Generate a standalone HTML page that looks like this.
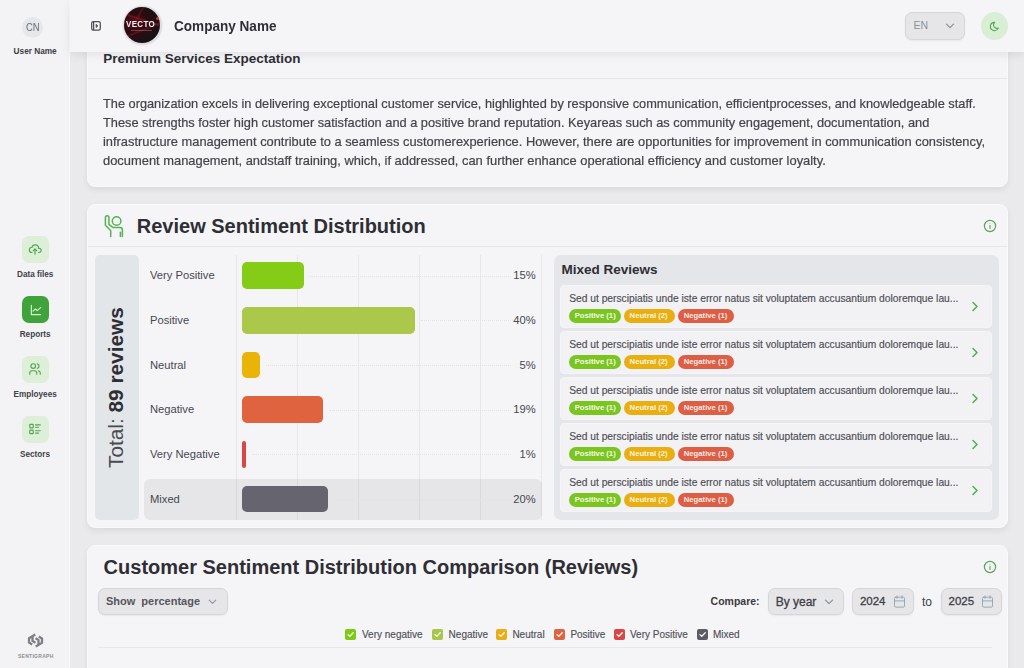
<!DOCTYPE html><html><head><meta charset="utf-8"><style>
*{margin:0;padding:0;box-sizing:border-box}
html,body{width:1024px;height:668px;overflow:hidden}
body{position:relative;background:#eaeaed;font-family:"Liberation Sans",sans-serif;-webkit-font-smoothing:antialiased}
.t{position:absolute;line-height:1;white-space:nowrap}
.abs{position:absolute}
.card{position:absolute;background:#f5f5f7;border-radius:8px;border:1px solid #f9f9fb;box-shadow:0 3px 7px -1px rgba(0,0,0,.09)}
.hl{position:absolute;height:1px;background:#e6e6e9}
.vl{position:absolute;width:1px;background:rgba(0,0,0,.055)}
.item{position:absolute;left:560px;width:432px;height:43px;background:#f2f2f4;border:1px solid #f5f5f7;border-radius:4px}
.badge{position:absolute;height:13.3px;border-radius:7px}
.btn{position:absolute;background:#e6e6e9;border:1px solid #d6d6da;border-radius:7px;box-shadow:0 1px 2px rgba(0,0,0,.06)}
.cb{position:absolute;width:11px;height:11px;border-radius:2px;top:629px}
</style></head><body><div class="abs" style="left:0;top:0;width:70px;height:668px;background:#f3f3f5;border-right:1px solid #f7f7f9"></div>
<div class="abs" style="left:22px;top:16.5px;width:21px;height:21px;border-radius:50%;background:#e6e7ea"></div>
<div class="t" style="left:25.7px;top:22.54px;font-size:10px;font-weight:400;color:#6b6b72;letter-spacing:0px;transform:scaleX(0.94);transform-origin:left top;">CN</div>
<div class="t" style="left:13.6px;top:47.82px;font-size:8.25px;font-weight:700;color:#3c3c43;letter-spacing:0px;">User Name</div>
<div class="abs" style="left:21.5px;top:236px;width:27px;height:27px;border-radius:7px;background:#ddefd9"></div>
<div class="t" style="left:17px;top:270.86px;font-size:8.2px;font-weight:700;color:#414148;letter-spacing:0px;">Data files</div>
<div class="abs" style="left:21.5px;top:296px;width:27px;height:27px;border-radius:7px;background:#3fa23b"></div>
<div class="t" style="left:19.7px;top:330.86px;font-size:8.2px;font-weight:700;color:#414148;letter-spacing:0px;">Reports</div>
<div class="abs" style="left:21.5px;top:356px;width:27px;height:27px;border-radius:7px;background:#ddefd9"></div>
<div class="t" style="left:13.5px;top:390.86px;font-size:8.2px;font-weight:700;color:#414148;letter-spacing:0px;">Employees</div>
<div class="abs" style="left:21.5px;top:416px;width:27px;height:27px;border-radius:7px;background:#ddefd9"></div>
<div class="t" style="left:20px;top:450.86px;font-size:8.2px;font-weight:700;color:#414148;letter-spacing:0px;">Sectors</div>
<svg class="abs" style="left:28px;top:242px" width="14" height="14" viewBox="0 0 24 24" fill="none" stroke="#52a84f" stroke-width="2" stroke-linecap="round" stroke-linejoin="round"><path d="M7 18a4.6 4.4 0 0 1 0 -9a5 4.5 0 0 1 11 2h1a3.5 3.5 0 0 1 0 7h-1"/><path d="M9 15l3 -3l3 3"/><path d="M12 12l0 9"/></svg>
<svg class="abs" style="left:28.5px;top:302.8px" width="14" height="14" viewBox="0 0 24 24" fill="none" stroke="#d6f2d0" stroke-width="2" stroke-linecap="round" stroke-linejoin="round"><path d="M4 4v16h16"/><path d="M7 14l4 -4l3 3l6 -5"/></svg>
<svg class="abs" style="left:28px;top:362px" width="14" height="14" viewBox="0 0 24 24" fill="none" stroke="#52a84f" stroke-width="2" stroke-linecap="round" stroke-linejoin="round"><circle cx="9" cy="7" r="4"/><path d="M3 21v-2a4 4 0 0 1 4 -4h4a4 4 0 0 1 4 4v2"/><path d="M16 3.13a4 4 0 0 1 0 7.75"/><path d="M21 21v-2a4 4 0 0 0 -3 -3.85"/></svg>
<svg class="abs" style="left:28px;top:422px" width="14" height="14" viewBox="0 0 24 24" fill="none" stroke="#52a84f" stroke-width="2" stroke-linecap="round" stroke-linejoin="round"><path d="M13 5h8"/><path d="M13 9h5"/><path d="M13 15h8"/><path d="M13 19h5"/><rect x="3" y="4" width="6" height="6" rx="1"/><rect x="3" y="14" width="6" height="6" rx="1"/></svg>
<svg class="abs" style="left:27px;top:633px" width="17" height="15" viewBox="0 0 17 15" fill="none" stroke="#7e7e84" stroke-width="2.3" stroke-linejoin="round"><path d="M8.3 1.6 L2 5.2 V9.6 L5.2 11.4 M8.7 13.4 L15 9.8 V5.4 L11.8 3.6"/><path d="M5.5 3.4 V8 L8.5 9.7 M11.5 11.6 V7 L8.5 5.3"/></svg>
<div class="t" style="left:18px;top:653.97px;font-size:5px;font-weight:700;color:#8e8e94;letter-spacing:0.28px;">SENTIGRAPH</div>
<div class="card" style="left:87px;top:-40px;width:921px;height:227px"></div>
<div class="hl" style="left:88px;top:78px;width:919px"></div>
<div class="t" style="left:103.2px;top:51.87px;font-size:13.5px;font-weight:700;color:#2e2e34;letter-spacing:0px;">Premium Services Expectation</div>
<div class="t" style="left:103px;top:97.66px;font-size:12.8px;font-weight:400;color:#434349;letter-spacing:0px;transform:scaleX(0.9981);transform-origin:left top;-webkit-text-stroke:0.2px #434349;">The organization excels in delivering exceptional customer service, highlighted by responsive communication, efficientprocesses, and knowledgeable staff.</div>
<div class="t" style="left:103px;top:116.66px;font-size:12.8px;font-weight:400;color:#434349;letter-spacing:0px;transform:scaleX(0.9996);transform-origin:left top;-webkit-text-stroke:0.2px #434349;">These strengths foster high customer satisfaction and a positive brand reputation. Keyareas such as community engagement, documentation, and</div>
<div class="t" style="left:103px;top:135.66px;font-size:12.8px;font-weight:400;color:#434349;letter-spacing:0px;transform:scaleX(1.0043);transform-origin:left top;-webkit-text-stroke:0.2px #434349;">infrastructure management contribute to a seamless customerexperience. However, there are opportunities for improvement in communication consistency,</div>
<div class="t" style="left:103px;top:154.66px;font-size:12.8px;font-weight:400;color:#434349;letter-spacing:0px;transform:scaleX(1.008);transform-origin:left top;-webkit-text-stroke:0.2px #434349;">document management, andstaff training, which, if addressed, can further enhance operational efficiency and customer loyalty.</div>
<div class="card" style="left:87px;top:203.5px;width:921px;height:324px"></div>
<div class="hl" style="left:88px;top:246px;width:919px"></div>
<svg class="abs" style="left:102px;top:212px" width="24" height="27" viewBox="0 0 24 27" fill="none" stroke="#56b354" stroke-width="1.5" stroke-linecap="round" stroke-linejoin="round"><path d="M8.7 24.5v-6L3.4 13.3V5.6a1.75 1.75 0 0 1 3.5 0V12.3l3.8 3.1h7.2a2.5 2.5 0 0 1 2.5 2.5v6.6"/><path d="M18.4 20.3v4.2"/><circle cx="14.6" cy="9" r="4.3"/></svg>
<div class="t" style="left:136.8px;top:215.87px;font-size:20px;font-weight:700;color:#2e2e34;letter-spacing:0px;">Review Sentiment Distribution</div>
<svg class="abs" style="left:983px;top:219px" width="14" height="14" viewBox="0 0 14 14" fill="none" stroke="#5aa457" stroke-width="1.2" stroke-linecap="round"><circle cx="7" cy="7" r="5.6"/><path d="M7 6.5v3" stroke="#7a9c78"/><path d="M7 4.5v0.1" stroke="#9ab898"/></svg>
<div class="abs" style="left:95px;top:255px;width:43.5px;height:264.5px;border-radius:5px;background:#e3e6e9"></div>
<div class="t" style="left:124px;top:468px;font-size:20.8px;color:#4a4a51;transform-origin:0 0;transform:rotate(-90deg) translateY(-0.8465em);">Total: <b style="color:#2e2e34">89 reviews</b></div>
<div class="abs" style="left:144px;top:478.5px;width:398px;height:41.5px;border-radius:6px;background:#e6e6e9"></div>
<div class="vl" style="left:236px;top:255px;height:265px"></div>
<div class="vl" style="left:297px;top:255px;height:265px"></div>
<div class="vl" style="left:358px;top:255px;height:265px"></div>
<div class="vl" style="left:419px;top:255px;height:265px"></div>
<div class="vl" style="left:480px;top:255px;height:265px"></div>
<div class="vl" style="left:541px;top:255px;height:265px"></div>
<div class="abs" style="left:309.5px;top:275.7px;width:201.5px;border-top:1px dotted #e2e2e6"></div>
<div class="abs" style="left:242px;top:262.4px;width:61.5px;height:26.6px;border-radius:5px;background:#84cc16"></div>
<div class="t" style="left:150px;top:270.32px;font-size:11.2px;font-weight:400;color:#47474e;letter-spacing:0px;">Very Positive</div>
<div class="t" style="right:488.4px;top:270.32px;font-size:11.2px;font-weight:400;color:#47474e;letter-spacing:0px;">15%</div>
<div class="abs" style="left:420.5px;top:320.3px;width:90.5px;border-top:1px dotted #e2e2e6"></div>
<div class="abs" style="left:242px;top:307.0px;width:172.5px;height:26.6px;border-radius:5px;background:#abc84a"></div>
<div class="t" style="left:150px;top:314.97px;font-size:11.2px;font-weight:400;color:#47474e;letter-spacing:0px;">Positive</div>
<div class="t" style="right:488.4px;top:314.97px;font-size:11.2px;font-weight:400;color:#47474e;letter-spacing:0px;">40%</div>
<div class="abs" style="left:266.3px;top:365.0px;width:244.7px;border-top:1px dotted #e2e2e6"></div>
<div class="abs" style="left:242px;top:351.7px;width:18.3px;height:26.6px;border-radius:5px;background:#eab308"></div>
<div class="t" style="left:150px;top:359.62px;font-size:11.2px;font-weight:400;color:#47474e;letter-spacing:0px;">Neutral</div>
<div class="t" style="right:488.4px;top:359.62px;font-size:11.2px;font-weight:400;color:#47474e;letter-spacing:0px;">5%</div>
<div class="abs" style="left:328.5px;top:409.6px;width:182.5px;border-top:1px dotted #e2e2e6"></div>
<div class="abs" style="left:242px;top:396.3px;width:80.5px;height:26.6px;border-radius:5px;background:#e0633f"></div>
<div class="t" style="left:150px;top:404.27px;font-size:11.2px;font-weight:400;color:#47474e;letter-spacing:0px;">Negative</div>
<div class="t" style="right:488.4px;top:404.27px;font-size:11.2px;font-weight:400;color:#47474e;letter-spacing:0px;">19%</div>
<div class="abs" style="left:252.3px;top:454.3px;width:258.7px;border-top:1px dotted #e2e2e6"></div>
<div class="abs" style="left:242px;top:441.0px;width:4.3px;height:26.6px;border-radius:2.15px;background:#d94646"></div>
<div class="t" style="left:150px;top:448.92px;font-size:11.2px;font-weight:400;color:#47474e;letter-spacing:0px;">Very Negative</div>
<div class="t" style="right:488.4px;top:448.92px;font-size:11.2px;font-weight:400;color:#47474e;letter-spacing:0px;">1%</div>
<div class="abs" style="left:333.8px;top:498.9px;width:177.2px;border-top:1px dotted #e2e2e6"></div>
<div class="abs" style="left:242px;top:485.6px;width:85.8px;height:26.6px;border-radius:5px;background:#65646f"></div>
<div class="t" style="left:150px;top:493.57px;font-size:11.2px;font-weight:400;color:#47474e;letter-spacing:0px;">Mixed</div>
<div class="t" style="right:488.4px;top:493.57px;font-size:11.2px;font-weight:400;color:#47474e;letter-spacing:0px;">20%</div>
<div class="abs" style="left:553.5px;top:255px;width:445px;height:264.5px;border-radius:7px;background:#e4e6e9"></div>
<div class="t" style="left:561.4px;top:263.27px;font-size:13.5px;font-weight:700;color:#2e2e34;letter-spacing:0px;">Mixed Reviews</div>
<div class="item" style="top:285px"></div>
<div class="t" style="left:569.2px;top:293.52px;font-size:10.25px;font-weight:400;color:#4d4d54;letter-spacing:0px;-webkit-text-stroke:0.15px #4d4d54;">Sed ut perscipiatis unde iste error natus sit voluptatem accusantium doloremque lau...</div>
<div class="badge" style="left:569px;top:309.3px;width:52px;background:#7bc520"></div>
<div class="badge" style="left:623.6px;top:309.3px;width:51.3px;background:#e9ae12"></div>
<div class="badge" style="left:677.8px;top:309.3px;width:56.4px;background:#dc5e44"></div>
<div class="t" style="left:574.7px;top:312.38px;font-size:7.7px;font-weight:700;color:#f4fbe9;letter-spacing:0px;">Positive (1)</div>
<div class="t" style="left:629.6px;top:312.38px;font-size:7.7px;font-weight:700;color:#fdf5dd;letter-spacing:0px;">Neutral (2)</div>
<div class="t" style="left:683.8px;top:312.38px;font-size:7.7px;font-weight:700;color:#fbe9e4;letter-spacing:0px;">Negative (1)</div>
<svg class="abs" style="left:971px;top:301px" width="8" height="11" viewBox="0 0 8 11" fill="none" stroke="#4fae4c" stroke-width="1.5" stroke-linecap="round" stroke-linejoin="round"><path d="M2 1.5l4 4l-4 4"/></svg>
<div class="item" style="top:331px"></div>
<div class="t" style="left:569.2px;top:339.52px;font-size:10.25px;font-weight:400;color:#4d4d54;letter-spacing:0px;-webkit-text-stroke:0.15px #4d4d54;">Sed ut perscipiatis unde iste error natus sit voluptatem accusantium doloremque lau...</div>
<div class="badge" style="left:569px;top:355.3px;width:52px;background:#7bc520"></div>
<div class="badge" style="left:623.6px;top:355.3px;width:51.3px;background:#e9ae12"></div>
<div class="badge" style="left:677.8px;top:355.3px;width:56.4px;background:#dc5e44"></div>
<div class="t" style="left:574.7px;top:358.38px;font-size:7.7px;font-weight:700;color:#f4fbe9;letter-spacing:0px;">Positive (1)</div>
<div class="t" style="left:629.6px;top:358.38px;font-size:7.7px;font-weight:700;color:#fdf5dd;letter-spacing:0px;">Neutral (2)</div>
<div class="t" style="left:683.8px;top:358.38px;font-size:7.7px;font-weight:700;color:#fbe9e4;letter-spacing:0px;">Negative (1)</div>
<svg class="abs" style="left:971px;top:347px" width="8" height="11" viewBox="0 0 8 11" fill="none" stroke="#4fae4c" stroke-width="1.5" stroke-linecap="round" stroke-linejoin="round"><path d="M2 1.5l4 4l-4 4"/></svg>
<div class="item" style="top:377px"></div>
<div class="t" style="left:569.2px;top:385.52px;font-size:10.25px;font-weight:400;color:#4d4d54;letter-spacing:0px;-webkit-text-stroke:0.15px #4d4d54;">Sed ut perscipiatis unde iste error natus sit voluptatem accusantium doloremque lau...</div>
<div class="badge" style="left:569px;top:401.3px;width:52px;background:#7bc520"></div>
<div class="badge" style="left:623.6px;top:401.3px;width:51.3px;background:#e9ae12"></div>
<div class="badge" style="left:677.8px;top:401.3px;width:56.4px;background:#dc5e44"></div>
<div class="t" style="left:574.7px;top:404.38px;font-size:7.7px;font-weight:700;color:#f4fbe9;letter-spacing:0px;">Positive (1)</div>
<div class="t" style="left:629.6px;top:404.38px;font-size:7.7px;font-weight:700;color:#fdf5dd;letter-spacing:0px;">Neutral (2)</div>
<div class="t" style="left:683.8px;top:404.38px;font-size:7.7px;font-weight:700;color:#fbe9e4;letter-spacing:0px;">Negative (1)</div>
<svg class="abs" style="left:971px;top:393px" width="8" height="11" viewBox="0 0 8 11" fill="none" stroke="#4fae4c" stroke-width="1.5" stroke-linecap="round" stroke-linejoin="round"><path d="M2 1.5l4 4l-4 4"/></svg>
<div class="item" style="top:423px"></div>
<div class="t" style="left:569.2px;top:431.52px;font-size:10.25px;font-weight:400;color:#4d4d54;letter-spacing:0px;-webkit-text-stroke:0.15px #4d4d54;">Sed ut perscipiatis unde iste error natus sit voluptatem accusantium doloremque lau...</div>
<div class="badge" style="left:569px;top:447.3px;width:52px;background:#7bc520"></div>
<div class="badge" style="left:623.6px;top:447.3px;width:51.3px;background:#e9ae12"></div>
<div class="badge" style="left:677.8px;top:447.3px;width:56.4px;background:#dc5e44"></div>
<div class="t" style="left:574.7px;top:450.38px;font-size:7.7px;font-weight:700;color:#f4fbe9;letter-spacing:0px;">Positive (1)</div>
<div class="t" style="left:629.6px;top:450.38px;font-size:7.7px;font-weight:700;color:#fdf5dd;letter-spacing:0px;">Neutral (2)</div>
<div class="t" style="left:683.8px;top:450.38px;font-size:7.7px;font-weight:700;color:#fbe9e4;letter-spacing:0px;">Negative (1)</div>
<svg class="abs" style="left:971px;top:439px" width="8" height="11" viewBox="0 0 8 11" fill="none" stroke="#4fae4c" stroke-width="1.5" stroke-linecap="round" stroke-linejoin="round"><path d="M2 1.5l4 4l-4 4"/></svg>
<div class="item" style="top:469px"></div>
<div class="t" style="left:569.2px;top:477.52px;font-size:10.25px;font-weight:400;color:#4d4d54;letter-spacing:0px;-webkit-text-stroke:0.15px #4d4d54;">Sed ut perscipiatis unde iste error natus sit voluptatem accusantium doloremque lau...</div>
<div class="badge" style="left:569px;top:493.3px;width:52px;background:#7bc520"></div>
<div class="badge" style="left:623.6px;top:493.3px;width:51.3px;background:#e9ae12"></div>
<div class="badge" style="left:677.8px;top:493.3px;width:56.4px;background:#dc5e44"></div>
<div class="t" style="left:574.7px;top:496.38px;font-size:7.7px;font-weight:700;color:#f4fbe9;letter-spacing:0px;">Positive (1)</div>
<div class="t" style="left:629.6px;top:496.38px;font-size:7.7px;font-weight:700;color:#fdf5dd;letter-spacing:0px;">Neutral (2)</div>
<div class="t" style="left:683.8px;top:496.38px;font-size:7.7px;font-weight:700;color:#fbe9e4;letter-spacing:0px;">Negative (1)</div>
<svg class="abs" style="left:971px;top:485px" width="8" height="11" viewBox="0 0 8 11" fill="none" stroke="#4fae4c" stroke-width="1.5" stroke-linecap="round" stroke-linejoin="round"><path d="M2 1.5l4 4l-4 4"/></svg>
<div class="card" style="left:87px;top:545px;width:921px;height:200px"></div>
<div class="t" style="left:103.6px;top:556.77px;font-size:20px;font-weight:700;color:#2e2e34;letter-spacing:0px;">Customer Sentiment Distribution Comparison (Reviews)</div>
<svg class="abs" style="left:983px;top:560px" width="14" height="14" viewBox="0 0 14 14" fill="none" stroke="#5aa457" stroke-width="1.2" stroke-linecap="round"><circle cx="7" cy="7" r="5.6"/><path d="M7 6.5v3" stroke="#7a9c78"/><path d="M7 4.5v0.1" stroke="#9ab898"/></svg>
<div class="btn" style="left:98px;top:588px;width:129.5px;height:27.2px"></div>
<div class="t" style="left:105.9px;top:595.99px;font-size:11px;font-weight:700;color:#55555c;letter-spacing:0px;">Show&nbsp; percentage</div>
<svg class="abs" style="left:208px;top:599px" width="9" height="6" viewBox="0 0 9 6" fill="none" stroke="#8a93a0" stroke-width="1.1" stroke-linecap="round" stroke-linejoin="round"><path d="M1.2 1.2l3.3 3.2l3.3 -3.2"/></svg>
<div class="t" style="left:710.6px;top:596.41px;font-size:10.5px;font-weight:700;color:#3a3a40;letter-spacing:0px;">Compare:</div>
<div class="btn" style="left:768px;top:588px;width:76px;height:27.2px"></div>
<div class="t" style="left:775.7px;top:595.74px;font-size:12px;font-weight:400;color:#3e3e45;letter-spacing:0px;-webkit-text-stroke:0.3px #3e3e45;">By year</div>
<svg class="abs" style="left:824px;top:598.5px" width="10" height="6" viewBox="0 0 10 6" fill="none" stroke="#8a8f99" stroke-width="1.2" stroke-linecap="round" stroke-linejoin="round"><path d="M1.5 1.2l3.5 3.5l3.5 -3.5"/></svg>
<div class="btn" style="left:852px;top:588px;width:61.5px;height:27.2px"></div>
<div class="t" style="left:859.9px;top:596.17px;font-size:11.5px;font-weight:400;color:#3e3e45;letter-spacing:0px;-webkit-text-stroke:0.3px #3e3e45;">2024</div>
<svg class="abs" style="left:891.5px;top:593.5px" width="15" height="15" viewBox="0 0 24 24" fill="none" stroke="#8fa2b4" stroke-width="1.45" stroke-linecap="round" stroke-linejoin="round"><rect x="4" y="5" width="16" height="16" rx="2"/><path d="M16 3v4M8 3v4M4 11h16"/></svg>
<div class="t" style="left:922px;top:595.74px;font-size:12px;font-weight:400;color:#3e3e45;letter-spacing:0px;">to</div>
<div class="btn" style="left:940.7px;top:588px;width:61.5px;height:27.2px"></div>
<div class="t" style="left:948.5px;top:596.17px;font-size:11.5px;font-weight:400;color:#3e3e45;letter-spacing:0px;-webkit-text-stroke:0.3px #3e3e45;">2025</div>
<svg class="abs" style="left:980px;top:593.5px" width="15" height="15" viewBox="0 0 24 24" fill="none" stroke="#8fa2b4" stroke-width="1.45" stroke-linecap="round" stroke-linejoin="round"><rect x="4" y="5" width="16" height="16" rx="2"/><path d="M16 3v4M8 3v4M4 11h16"/></svg>
<div class="cb" style="left:345px;background:#7dca14"></div>
<svg class="abs" style="left:345px;top:629px" width="11" height="11" viewBox="0 0 11 11" fill="none" stroke="#fff" stroke-width="1.3" stroke-linecap="round" stroke-linejoin="round"><path d="M3 5.6l1.8 1.8l3.4 -3.6"/></svg>
<div class="t" style="left:362px;top:630.13px;font-size:10px;font-weight:400;color:#505057;letter-spacing:0px;-webkit-text-stroke:0.15px #505057;">Very negative</div>
<div class="cb" style="left:432px;background:#a8c64a"></div>
<svg class="abs" style="left:432px;top:629px" width="11" height="11" viewBox="0 0 11 11" fill="none" stroke="#fff" stroke-width="1.3" stroke-linecap="round" stroke-linejoin="round"><path d="M3 5.6l1.8 1.8l3.4 -3.6"/></svg>
<div class="t" style="left:448.6px;top:630.13px;font-size:10px;font-weight:400;color:#505057;letter-spacing:0px;-webkit-text-stroke:0.15px #505057;">Negative</div>
<div class="cb" style="left:496px;background:#eaae12"></div>
<svg class="abs" style="left:496px;top:629px" width="11" height="11" viewBox="0 0 11 11" fill="none" stroke="#fff" stroke-width="1.3" stroke-linecap="round" stroke-linejoin="round"><path d="M3 5.6l1.8 1.8l3.4 -3.6"/></svg>
<div class="t" style="left:512.4px;top:630.13px;font-size:10px;font-weight:400;color:#505057;letter-spacing:0px;-webkit-text-stroke:0.15px #505057;">Neutral</div>
<div class="cb" style="left:554px;background:#e0633f"></div>
<svg class="abs" style="left:554px;top:629px" width="11" height="11" viewBox="0 0 11 11" fill="none" stroke="#fff" stroke-width="1.3" stroke-linecap="round" stroke-linejoin="round"><path d="M3 5.6l1.8 1.8l3.4 -3.6"/></svg>
<div class="t" style="left:570.4px;top:630.13px;font-size:10px;font-weight:400;color:#505057;letter-spacing:0px;-webkit-text-stroke:0.15px #505057;">Positive</div>
<div class="cb" style="left:613.6px;background:#d94646"></div>
<svg class="abs" style="left:613.6px;top:629px" width="11" height="11" viewBox="0 0 11 11" fill="none" stroke="#fff" stroke-width="1.3" stroke-linecap="round" stroke-linejoin="round"><path d="M3 5.6l1.8 1.8l3.4 -3.6"/></svg>
<div class="t" style="left:630px;top:630.13px;font-size:10px;font-weight:400;color:#505057;letter-spacing:0px;-webkit-text-stroke:0.15px #505057;">Very Positive</div>
<div class="cb" style="left:696.6px;background:#5d5c66"></div>
<svg class="abs" style="left:696.6px;top:629px" width="11" height="11" viewBox="0 0 11 11" fill="none" stroke="#fff" stroke-width="1.3" stroke-linecap="round" stroke-linejoin="round"><path d="M3 5.6l1.8 1.8l3.4 -3.6"/></svg>
<div class="t" style="left:713px;top:630.13px;font-size:10px;font-weight:400;color:#505057;letter-spacing:0px;-webkit-text-stroke:0.15px #505057;">Mixed</div>
<div class="hl" style="left:98px;top:647px;width:894px;background:#e8e8eb"></div>
<div class="abs" style="left:70px;top:0;width:954px;height:51.5px;background:#f5f5f7;box-shadow:0 3px 9px rgba(0,0,0,.08)"></div>
<svg class="abs" style="left:91px;top:20.5px" width="10" height="10" viewBox="0 0 10 10" fill="none" stroke="#4e4e54" stroke-width="1.25" stroke-linejoin="round"><rect x="0.7" y="0.7" width="8.6" height="8.4" rx="1.6"/><path d="M2.6 0.7v8.4"/><path d="M5.1 3.3l1.8 1.6l-1.8 1.6z" fill="#4e4e54" stroke-width="0.8"/></svg>
<div class="abs" style="left:122.5px;top:5.5px;width:39.5px;height:39.5px;border-radius:50%;background:#dedee1;box-shadow:0 0 2px rgba(0,0,0,.12)"></div>
<div class="abs" style="left:124.2px;top:7.2px;width:36px;height:36px;border-radius:50%;overflow:hidden;background:radial-gradient(ellipse at 30% 45%, #5a0f1a 0%, #2c0b12 35%, #171216 70%, #121014 100%)">
<div class="abs" style="left:-4px;top:12px;width:46px;height:2px;background:rgba(190,25,45,.35);transform:rotate(18deg);filter:blur(.6px)"></div>
<div class="abs" style="left:-4px;top:22px;width:46px;height:2px;background:rgba(190,25,45,.3);transform:rotate(-22deg);filter:blur(.6px)"></div>
<div class="abs" style="left:14px;top:-4px;width:2px;height:24px;background:rgba(190,25,45,.25);transform:rotate(30deg);filter:blur(.6px)"></div>
</div>
<div class="abs" style="left:156px;top:16.5px;width:3px;height:3px;border-radius:50%;background:#d83a30"></div>
<div class="t" style="left:126.4px;top:19.82px;font-size:8.6px;font-weight:700;color:#f2f2f2;letter-spacing:0.35px;transform:scaleX(0.93);transform-origin:left top;">VECTO</div>
<div class="abs" style="left:131px;top:29.5px;width:21px;height:1px;background:rgba(230,200,205,.3)"></div>
<div class="t" style="left:173.5px;top:19.15px;font-size:14px;font-weight:700;color:#2e2e34;letter-spacing:0px;transform:scaleX(0.9687);transform-origin:left top;">Company Name</div>
<div class="btn" style="left:905px;top:12px;width:59.5px;height:27.5px"></div>
<div class="t" style="left:913.5px;top:20.21px;font-size:10.5px;font-weight:400;color:#8a92a0;letter-spacing:0px;">EN</div>
<svg class="abs" style="left:944.5px;top:23px" width="10" height="6" viewBox="0 0 10 6" fill="none" stroke="#8a8f99" stroke-width="1.2" stroke-linecap="round" stroke-linejoin="round"><path d="M1.5 1.2l3.5 3.5l3.5 -3.5"/></svg>
<div class="abs" style="left:980.5px;top:12px;width:27.5px;height:27.5px;border-radius:50%;background:#d8efd5"></div>
<svg class="abs" style="left:989px;top:21px" width="11" height="11" viewBox="0 0 24 24" fill="none" stroke="#4fa84c" stroke-width="2.3" stroke-linecap="round" stroke-linejoin="round"><path d="M12 3c.132 0 .263 0 .393 0a7.5 7.5 0 0 0 7.92 12.446a9 9 0 1 1 -8.313 -12.454z"/></svg></body></html>
